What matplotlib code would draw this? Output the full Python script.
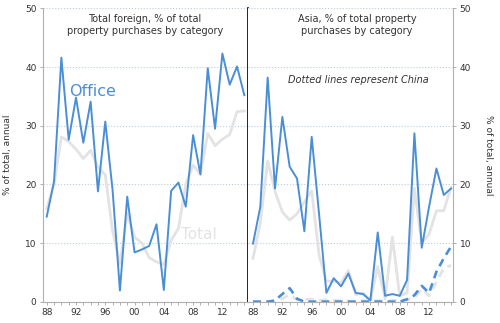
import numpy as np
import matplotlib
matplotlib.use("Agg")
import matplotlib.pyplot as plt

# data, 1988-2015
years = np.arange(1988, 2016)

foreign_office = [14.5, 20.5, 41.6, 27.6, 34.8, 27.1, 34.1, 18.8, 30.7, 19.0,
                  1.9, 17.9, 8.4, 8.9, 9.5, 13.2, 2.0, 18.9, 20.3, 16.2,
                  28.4, 21.7, 39.8, 29.5, 42.3, 37.0, 40.1, 35.2]
foreign_total = [15.9, 20.0, 28.1, 27.3, 26.0, 24.4, 25.8, 23.0, 21.6, 12.0,
                 6.5, 15.0, 11.0, 10.0, 7.5, 6.8, 6.3, 10.5, 12.5, 20.0,
                 23.3, 21.7, 28.7, 26.6, 27.7, 28.5, 32.4, 32.5]

asia_office = [9.9, 16.2, 38.2, 19.3, 31.5, 23.0, 21.0, 12.0, 28.1, 15.0,
               1.5, 4.0, 2.6, 4.8, 1.5, 1.3, 0.2, 11.8, 1.0, 1.3,
               1.0, 3.7, 28.7, 9.2, 16.2, 22.7, 18.2, 19.3]
asia_total = [7.4, 13.4, 24.0, 18.8, 15.3, 13.9, 15.0, 17.0, 18.9, 8.0,
              3.5, 3.5, 3.2, 5.3, 1.2, 1.5, 0.3, 6.0, 0.5, 11.0,
              1.0, 1.5, 19.3, 10.0, 11.5, 15.5, 15.5, 19.5]

china_office = [0.0, 0.0, 0.0, 0.2, 1.3, 2.3, 0.5, 0.0, 0.0, 0.0,
                0.0, 0.0, 0.0, 0.0, 0.0, 0.0, 0.0, 0.0, 0.0, 0.0,
                0.0, 0.4, 1.1, 2.7, 1.5, 5.1, 7.4, 9.4]
china_total = [0.0, 0.0, 0.0, 0.1, 0.5, 1.2, 0.3, 0.4, 0.4, 0.2,
               0.3, 0.2, 0.2, 0.1, 0.1, 0.2, 0.1, 0.2, 0.1, 0.2,
               0.3, 0.4, 0.6, 2.2, 1.0, 3.4, 5.7, 6.2]

label_years = [1988, 1992, 1996, 2000, 2004, 2008, 2012]
label_text = ['88', '92', '96', '00', '04', '08', '12']

blue = '#4a8fd6'
grey = '#e3e3e3'
txt = '#333333'
axcol = '#b0b0b0'

fig = plt.figure(figsize=(5.0, 3.23), dpi=100)
ax1 = fig.add_axes([0.0854, 0.066, 0.4106, 0.908])
ax2 = fig.add_axes([0.495, 0.066, 0.4116, 0.908])

for ax in (ax1, ax2):
    ax.set_ylim(0, 50)
    ax.set_yticks([0, 10, 20, 30, 40, 50])
    ax.set_xticks(label_years)
    ax.set_xticklabels(label_text)
    ax.set_xticks(years, minor=True)
    ax.tick_params(which='both', length=2.5, width=0.7, color=axcol,
                   labelsize=6.5, labelcolor=txt, pad=2)
    ax.grid(axis='y', color='#b9cddd', linestyle=':', linewidth=0.8)
    ax.set_axisbelow(True)
    ax.spines['top'].set_visible(False)
    for s in ('left', 'right', 'bottom'):
        ax.spines[s].set_color(axcol)
        ax.spines[s].set_linewidth(0.8)

# left panel
ax1.set_xlim(1987.45, 2015.5)
ax1.plot(years, foreign_total, color=grey, linewidth=2.0)
ax1.plot(years, foreign_office, color=blue, linewidth=1.4)
ax1.spines['right'].set_color('black')
ax1.spines['right'].set_linewidth(1.2)
ax1.set_ylabel('% of total, annual', fontsize=6.5, color=txt, labelpad=9)
ax1.text(2001.4, 49, 'Total foreign, % of total\nproperty purchases by category',
         ha='center', va='top', fontsize=7, color=txt, linespacing=1.25)
ax1.text(1991, 35.8, 'Office', color=blue, fontsize=11.5, va='center')
ax1.text(2006.3, 11.4, 'Total', color=grey, fontsize=11, va='center')

# right panel
ax2.set_xlim(1987.25, 2015.3)
ax2.plot(years, asia_total, color=grey, linewidth=2.0)
ax2.plot(years, china_total, color=grey, linewidth=2.0, linestyle=(0, (3, 2)))
ax2.plot(years, asia_office, color=blue, linewidth=1.4)
ax2.plot(years, china_office, color=blue, linewidth=1.9, linestyle=(0, (3, 2)))
ax2.spines['left'].set_visible(False)
ax2.yaxis.tick_right()
ax2.yaxis.set_label_position('right')
ax2.set_ylabel('% of total, annual', fontsize=6.5, color=txt, rotation=270, labelpad=16)
ax2.text(2002.2, 49, 'Asia, % of total property\npurchases by category',
         ha='center', va='top', fontsize=7, color=txt, linespacing=1.25)
ax2.text(2002.3, 37.8, 'Dotted lines represent China', ha='center', va='center',
         fontsize=7, style='italic', color=txt)

fig.savefig('out.png', dpi=100)
